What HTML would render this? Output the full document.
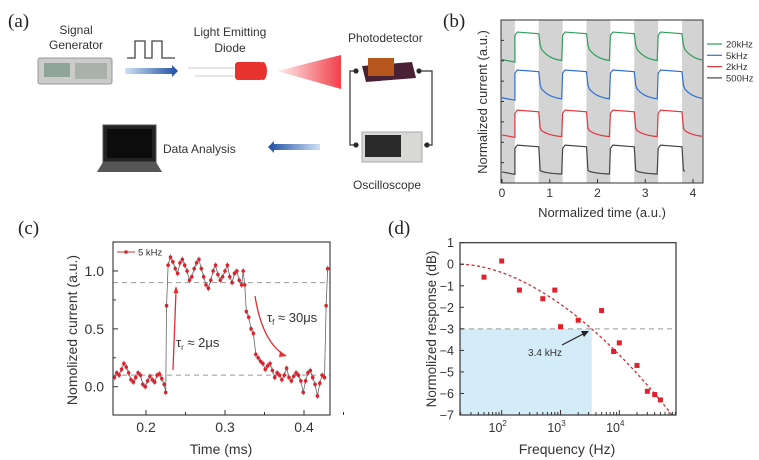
<!DOCTYPE html>
<html><head><meta charset="utf-8">
<style>
html,body{margin:0;padding:0;background:#fff;}
svg{display:block;font-family:"Liberation Sans",sans-serif;}
.lab{font-family:"Liberation Serif",serif;font-size:19px;fill:#222;}
.t{font-size:12px;fill:#333;}
</style></head>
<body>
<svg id="fig" width="759" height="460" viewBox="0 0 759 460" xmlns="http://www.w3.org/2000/svg">
<defs>
<linearGradient id="arrR" x1="0" x2="1"><stop offset="0" stop-color="#cfe0f3"/><stop offset="1" stop-color="#1d4fa0"/></linearGradient>
<linearGradient id="arrL" x1="1" x2="0"><stop offset="0" stop-color="#cfe0f3"/><stop offset="1" stop-color="#1d4fa0"/></linearGradient>
<linearGradient id="cone" x1="0" x2="1"><stop offset="0" stop-color="#fff0f0"/><stop offset="1" stop-color="#f0404a"/></linearGradient>
</defs>
<!-- Panel a -->
<g>
<text class="lab" x="8" y="27">(a)</text>
<text class="t" x="76" y="34" text-anchor="middle">Signal</text>
<text class="t" x="76" y="49" text-anchor="middle">Generator</text>
<g>
<rect x="38" y="58" width="74" height="26" rx="2" fill="#c9ccc8" stroke="#999"/>
<rect x="44" y="63" width="26" height="14" fill="#8fa49a"/>
<rect x="75" y="63" width="32" height="16" fill="#aab0ab"/>
</g>
<path d="M127 58 H135 V41 H145 V58 H152 V41 H162 V58 H175" fill="none" stroke="#444" stroke-width="1.3"/>
<path d="M125 68 H172 V65 L178 71 L172 77 V74 H125 Z" fill="url(#arrR)"/>
<text class="t" x="230" y="36" text-anchor="middle">Light Emitting</text>
<text class="t" x="230" y="52" text-anchor="middle">Diode</text>
<g>
<line x1="188" y1="68" x2="236" y2="68" stroke="#ddd" stroke-width="1.5"/>
<line x1="195" y1="76" x2="236" y2="76" stroke="#ddd" stroke-width="1.5"/>
<rect x="235" y="62" width="28" height="18" rx="3" fill="#e8322e"/>
<ellipse cx="263" cy="71" rx="4" ry="9" fill="#e8322e"/>
</g>
<polygon points="277,71 341,55 341,89" fill="url(#cone)"/>
<text class="t" x="348" y="42">Photodetector</text>
<g>
<polygon points="362,66 412,62 416,78 366,82" fill="#4a2035"/>
<rect x="368" y="58" width="26" height="18" fill="#b5571e"/>
</g>
<g stroke="#333" stroke-width="1.2" fill="none">
<path d="M357 71 H350 V145 H357"/><path d="M419 71 H432 V145 H424"/>
<circle cx="356" cy="71" r="2" fill="#222"/><circle cx="419" cy="71" r="2" fill="#222"/>
<circle cx="356" cy="145" r="2" fill="#222"/><circle cx="427" cy="145" r="2" fill="#222"/>
</g>
<g>
<rect x="362" y="132" width="60" height="30" fill="#d8d8d4" stroke="#aaa"/>
<rect x="365" y="135" width="36" height="22" fill="#2a2a2a"/>
</g>
<text class="t" x="353" y="189">Oscilloscope</text>
<g>
<rect x="103" y="125" width="53" height="37" fill="#222" stroke="#555"/>
<rect x="107" y="129" width="45" height="29" fill="#0c0c0c"/>
<polygon points="103,162 156,162 162,172 97,172" fill="#555"/>
</g>
<text class="t" x="163" y="153">Data Analysis</text>
<path d="M320 144 H274 V141 L268 147 L274 153 V150 H320 Z" fill="url(#arrL)"/>
</g>
<text class="lab" x="443" y="27">(b)</text>
<text class="lab" x="18" y="234">(c)</text>
<text class="lab" x="388" y="234">(d)</text>
<g id="pb"></g><g id="pc"></g><g id="pd"></g>
</svg>
<script>
// ---- Panel b data ----
const bPulseStarts = [0.27, 1.27, 2.27, 3.27];
const bPulseWidth = 0.5;
const bSeriesNames = ["20kHz", "5kHz", "2kHz", "500Hz"];
const bHigh = [9.26, 6.93, 4.47, 2.32];
const bLowStart = [8.46, 6.0, 3.36, 0.78];
const bLowEnd = [7.42, 5.08, 2.8, 0.53];
const bEndTime = [4.2, 4.2, 4.2, 3.85];
const bXTicks = [0, 1, 2, 3, 4];
// ---- Panel c data ----
const cTime = [0.160,0.163,0.166,0.169,0.172,0.175,0.178,0.181,0.184,0.187,0.190,0.193,0.196,0.199,0.202,0.205,0.208,0.211,0.214,0.217,0.220,0.223,0.225,0.226,0.228,0.231,0.234,0.237,0.240,0.243,0.246,0.249,0.252,0.255,0.258,0.261,0.264,0.267,0.270,0.273,0.276,0.279,0.282,0.285,0.288,0.291,0.294,0.297,0.300,0.303,0.306,0.309,0.312,0.315,0.318,0.321,0.323,0.325,0.327,0.330,0.333,0.336,0.339,0.342,0.345,0.348,0.351,0.354,0.357,0.360,0.363,0.366,0.369,0.372,0.375,0.378,0.381,0.384,0.387,0.390,0.393,0.396,0.399,0.402,0.405,0.408,0.411,0.414,0.417,0.420,0.423,0.426,0.428,0.430];
const cCurrent = [0.08,0.12,0.10,0.15,0.20,0.17,0.12,0.06,0.04,0.08,0.12,0.10,0.02,0.00,0.05,0.09,0.06,0.04,0.10,0.11,0.07,0.02,-0.05,0.70,1.05,1.12,1.08,1.02,0.98,1.07,1.10,1.05,1.00,0.92,0.95,1.02,1.07,1.10,1.02,0.95,0.88,0.85,0.92,1.00,1.05,0.97,0.92,0.95,1.00,1.05,0.95,0.90,0.98,1.00,0.92,0.88,1.00,0.88,0.65,0.60,0.50,0.46,0.28,0.25,0.22,0.20,0.15,0.18,0.20,0.14,0.08,0.12,0.10,0.06,0.10,0.16,0.08,0.05,0.09,0.12,0.10,0.05,-0.05,0.05,0.12,0.14,0.08,0.02,-0.08,0.03,0.10,0.08,0.70,1.02];
const cXTicks = [0.2, 0.3, 0.4];
const cYTicks = [0.0, 0.5, 1.0];
const cThresholds = [0.9, 0.1];
// ---- Panel d data ----
const dFreq = [50,100,200,500,800,1000,2000,5000,8000,10000,20000,30000,40000,50000];
const dResp = [-0.6,0.15,-1.2,-1.6,-1.2,-2.9,-2.6,-2.15,-4.05,-3.65,-4.7,-5.9,-6.05,-6.3];
const dYTicks = [1,0,-1,-2,-3,-4,-5,-6,-7];
const dXDecades = [2,3,4];
const dCutoff = 3400;

const NS = "http://www.w3.org/2000/svg";
function mk(parent, tag, attrs, txt){const e=document.createElementNS(NS,tag);for(const k in attrs)e.setAttribute(k,attrs[k]);if(txt!==undefined)e.textContent=txt;parent.appendChild(e);return e;}

// ===== Panel b =====
(function(){
const g=document.getElementById('pb');
const L=501,R=703,T=20,B=183;
const x=v=>L+(v-0)/(4.2-0)*(R-L)*1.0; // domain 0..4.23
const xs=v=>502+v*47.75;
const y=v=>B-(v/10)*(B-T);
// gray bands
const bands=[[-0.03,0.27]];
bPulseStarts.forEach(s=>bands.push([s+bPulseWidth,Math.min(s+1,4.23)]));
bands.forEach((b,i)=>{
 const r=mk(g,'rect',{x:Math.max(L,xs(b[0])),y:T,width:Math.min(R,xs(b[1]))-Math.max(L,xs(b[0])),height:B-T,fill:'#d3d3d3'});
 
 
});
const colors=['#2e9e5b','#2f6fcf','#e0363c','#444'];
bSeriesNames.forEach((nm,i)=>{
 let d='';
 // initial low segment
 d+=`M${xs(0)} ${y(bLowEnd[i]+0.15)} L${xs(0.27)} ${y(bLowEnd[i])}`;
 bPulseStarts.forEach((s,k)=>{
  if(s>bEndTime[i])return;
  d+=` L${xs(s)} ${y(bHigh[i]-0.2)} L${xs(s+0.05)} ${y(bHigh[i])} L${xs(s+bPulseWidth)} ${y(bHigh[i]-0.1)}`;
  const e=s+bPulseWidth;
  d+=` L${xs(e+0.03)} ${y(bLowStart[i])}`;
  const end=Math.min(s+1,bEndTime[i]);
  for(let t=e+0.06;t<=end+1e-6;t+=0.06){
   const f=(t-e)/0.5;
   d+=` L${xs(t)} ${y(bLowEnd[i]+(bLowStart[i]-bLowEnd[i])*Math.exp(-2.5*f))}`;
  }
 });
 const p=mk(g,'path',{d:d,fill:'none',stroke:colors[i],'stroke-width':1.2});
 
 
 // legend
 const ly=44+i*11.3;
 const ll=mk(g,'line',{x1:707,x2:722,y1:ly,y2:ly,stroke:colors[i],'stroke-width':1.2});
 
 
 const lt=mk(g,'text',{x:726,y:ly+3.5,'font-size':9.5,fill:'#333'},nm);
 
 
});
const fr=mk(g,'rect',{x:L,y:T,width:R-L,height:B-T,fill:'none',stroke:'#333','stroke-width':1});


bXTicks.forEach(v=>{
 mk(g,'line',{x1:xs(v),x2:xs(v),y1:B,y2:B-4,stroke:'#333'});
 const t=mk(g,'text',{x:xs(v),y:B+14,'text-anchor':'middle','font-size':12,fill:'#333'},String(v));
 
 
});
for(let v=0;v<10;v+=1.25){mk(g,'line',{x1:L,x2:L+3,y1:y(v),y2:y(v),stroke:'#333'});}
const xt=mk(g,'text',{x:602,y:217,'text-anchor':'middle','font-size':13,fill:'#333'},'Normalized time (a.u.)');


const yt=mk(g,'text',{x:0,y:0,transform:'translate(487,102) rotate(-90)','text-anchor':'middle','font-size':13,fill:'#333'},'Normalized current (a.u.)');


})();

// ===== Panel c =====
(function(){
const g=document.getElementById('pc');
const L=113,R=330,T=242,B=415;
const x=v=>146+(v-0.2)*790;
const y=v=>386.7-v*115.7;
cThresholds.forEach(v=>{
 const l=mk(g,'line',{x1:L,x2:R,y1:y(v),y2:y(v),stroke:'#999','stroke-dasharray':'5,4','stroke-width':1});
 
 
});
let d='';
cTime.forEach((t,i)=>{d+=(i?' L':'M')+x(t)+' '+y(cCurrent[i]);});
const ln=mk(g,'path',{d:d,fill:'none',stroke:'#666','stroke-width':0.8});


cTime.forEach((t,i)=>{
 const eb=mk(g,'line',{x1:x(t),x2:x(t),y1:y(cCurrent[i])-3,y2:y(cCurrent[i])+3,stroke:'#666','stroke-width':0.6});
 
 
 const c=mk(g,'circle',{cx:x(t),cy:y(cCurrent[i]),r:1.8,fill:'#e0202a'});
 
 
});
const fr=mk(g,'rect',{x:L,y:T,width:R-L,height:B-T,fill:'none',stroke:'#333','stroke-width':1.1});


cXTicks.forEach(v=>{
 mk(g,'line',{x1:x(v),x2:x(v),y1:B,y2:B-5,stroke:'#333'});
 mk(g,'line',{x1:x(v+0.05),x2:x(v+0.05),y1:B,y2:B-3,stroke:'#333'});
 const t=mk(g,'text',{x:x(v),y:B+17,'text-anchor':'middle','font-size':14,fill:'#333'},v.toFixed(1));
 
 
});
cYTicks.forEach(v=>{
 mk(g,'line',{x1:L,x2:L+5,y1:y(v),y2:y(v),stroke:'#333'});
 mk(g,'line',{x1:L,x2:L+3,y1:y(v+0.25),y2:y(v+0.25),stroke:'#333'});
 const t=mk(g,'text',{x:L-9,y:y(v)+5,'text-anchor':'end','font-size':14,fill:'#333'},v.toFixed(1));
 
 
});
const xt=mk(g,'text',{x:221,y:454,'text-anchor':'middle','font-size':14,fill:'#333'},'Time (ms)');


const yt=mk(g,'text',{x:0,y:0,transform:'translate(77,330) rotate(-90)','text-anchor':'middle','font-size':14,fill:'#333'},'Nomolized current (a.u.)');


// legend
const lg=mk(g,'line',{x1:117,x2:135,y1:252,y2:252,stroke:'#c33','stroke-width':1});


mk(g,'circle',{cx:126,cy:252,r:1.8,fill:'#e0202a'});
const lt=mk(g,'text',{x:138,y:255.5,'font-size':9.5,fill:'#333'},'5 kHz');


// annotations
const a1=mk(g,'path',{d:'M173 370 L176 291',stroke:'#e03030','stroke-width':1.3,fill:'none'});


mk(g,'polygon',{points:'176,286 173.5,293 178.5,293',fill:'#e03030'});
const t1=mk(g,'text',{x:176,y:347,'font-size':13,fill:'#333'},'τ');


mk(t1,'tspan',{'font-size':8,dy:3},'r');
mk(t1,'tspan',{dy:-3},' ≈ 2μs');
const a2=mk(g,'path',{d:'M255 296 Q262 340 283 354',stroke:'#e03030','stroke-width':1.3,fill:'none'});


mk(g,'polygon',{points:'287,356 280,351 279,357',fill:'#e03030'});
const t2=mk(g,'text',{x:267,y:322,'font-size':13,fill:'#333'},'τ');


mk(t2,'tspan',{'font-size':8,dy:3},'f');
mk(t2,'tspan',{dy:-3},' ≈ 30μs');
})();

// ===== Panel d =====
(function(){
const g=document.getElementById('pd');
const L=460,R=676,T=242.7,B=415;
const x=f=>501.7+(Math.log10(f)-2)*58.8;
const y=v=>B-(v+7)/8*(B-T);
const sh=mk(g,'rect',{x:L,y:y(-3),width:x(dCutoff)-L,height:B-y(-3),fill:'#d4ebf8'});


const hl=mk(g,'line',{x1:L,x2:R,y1:y(-3),y2:y(-3),stroke:'#999','stroke-dasharray':'5,4'});


// fit curve
let d='';
const u0=Math.log10(20);
for(let u=u0;u<=4.96;u+=0.04){
 const v=-0.726*Math.pow(u-u0,1.77)*(Math.log10(dCutoff)-u0>0?1:1);
 if(v<-7.05)break;
 d+=(d?' L':'M')+x(Math.pow(10,u))+' '+y(v);
}
const fc=mk(g,'path',{d:d,fill:'none',stroke:'#d0303a','stroke-width':1.3,'stroke-dasharray':'3,2.5'});


dFreq.forEach((f,i)=>{
 const p=mk(g,'rect',{x:x(f)-2.5,y:y(dResp[i])-2.5,width:5,height:5,fill:'#e0202a'});
 
 
});
const fr=mk(g,'rect',{x:L,y:T,width:R-L,height:B-T,fill:'none',stroke:'#333','stroke-width':1.2});


dYTicks.forEach(v=>{
 mk(g,'line',{x1:L,x2:L+4,y1:y(v),y2:y(v),stroke:'#333'});
 const t=mk(g,'text',{x:L-6,y:y(v)+4.5,'text-anchor':'end','font-size':12.5,fill:'#333'},v<0?'−'+(-v):String(v));
 
 
});
for(let e=1;e<=4;e++)for(let m=1;m<10;m++){
 const f=m*Math.pow(10,e);const px=x(f);
 if(px<L||px>R)continue;
 mk(g,'line',{x1:px,x2:px,y1:B,y2:B-(m===1?5:3),stroke:'#333'});
}
dXDecades.forEach(e=>{
 const t=mk(g,'text',{x:x(Math.pow(10,e))-4,y:B+17,'text-anchor':'middle','font-size':12.5,fill:'#333'},'10');
 
 
 mk(t,'tspan',{'font-size':8,dy:-6},String(e));
});
const xt=mk(g,'text',{x:567,y:454,'text-anchor':'middle','font-size':14,fill:'#333'},'Frequency (Hz)');


const yt=mk(g,'text',{x:0,y:0,transform:'translate(436,329) rotate(-90)','text-anchor':'middle','font-size':13.5,fill:'#333'},'Normolized response (dB)');


const an=mk(g,'text',{x:545,y:356,'text-anchor':'middle','font-size':10,fill:'#333'},'3.4 kHz');


mk(g,'line',{x1:562,y1:345,x2:585,y2:333,stroke:'#222','stroke-width':1.2});
mk(g,'polygon',{points:'589,331 581,331 584,337',fill:'#222'});
})();
</script>
</body></html>
